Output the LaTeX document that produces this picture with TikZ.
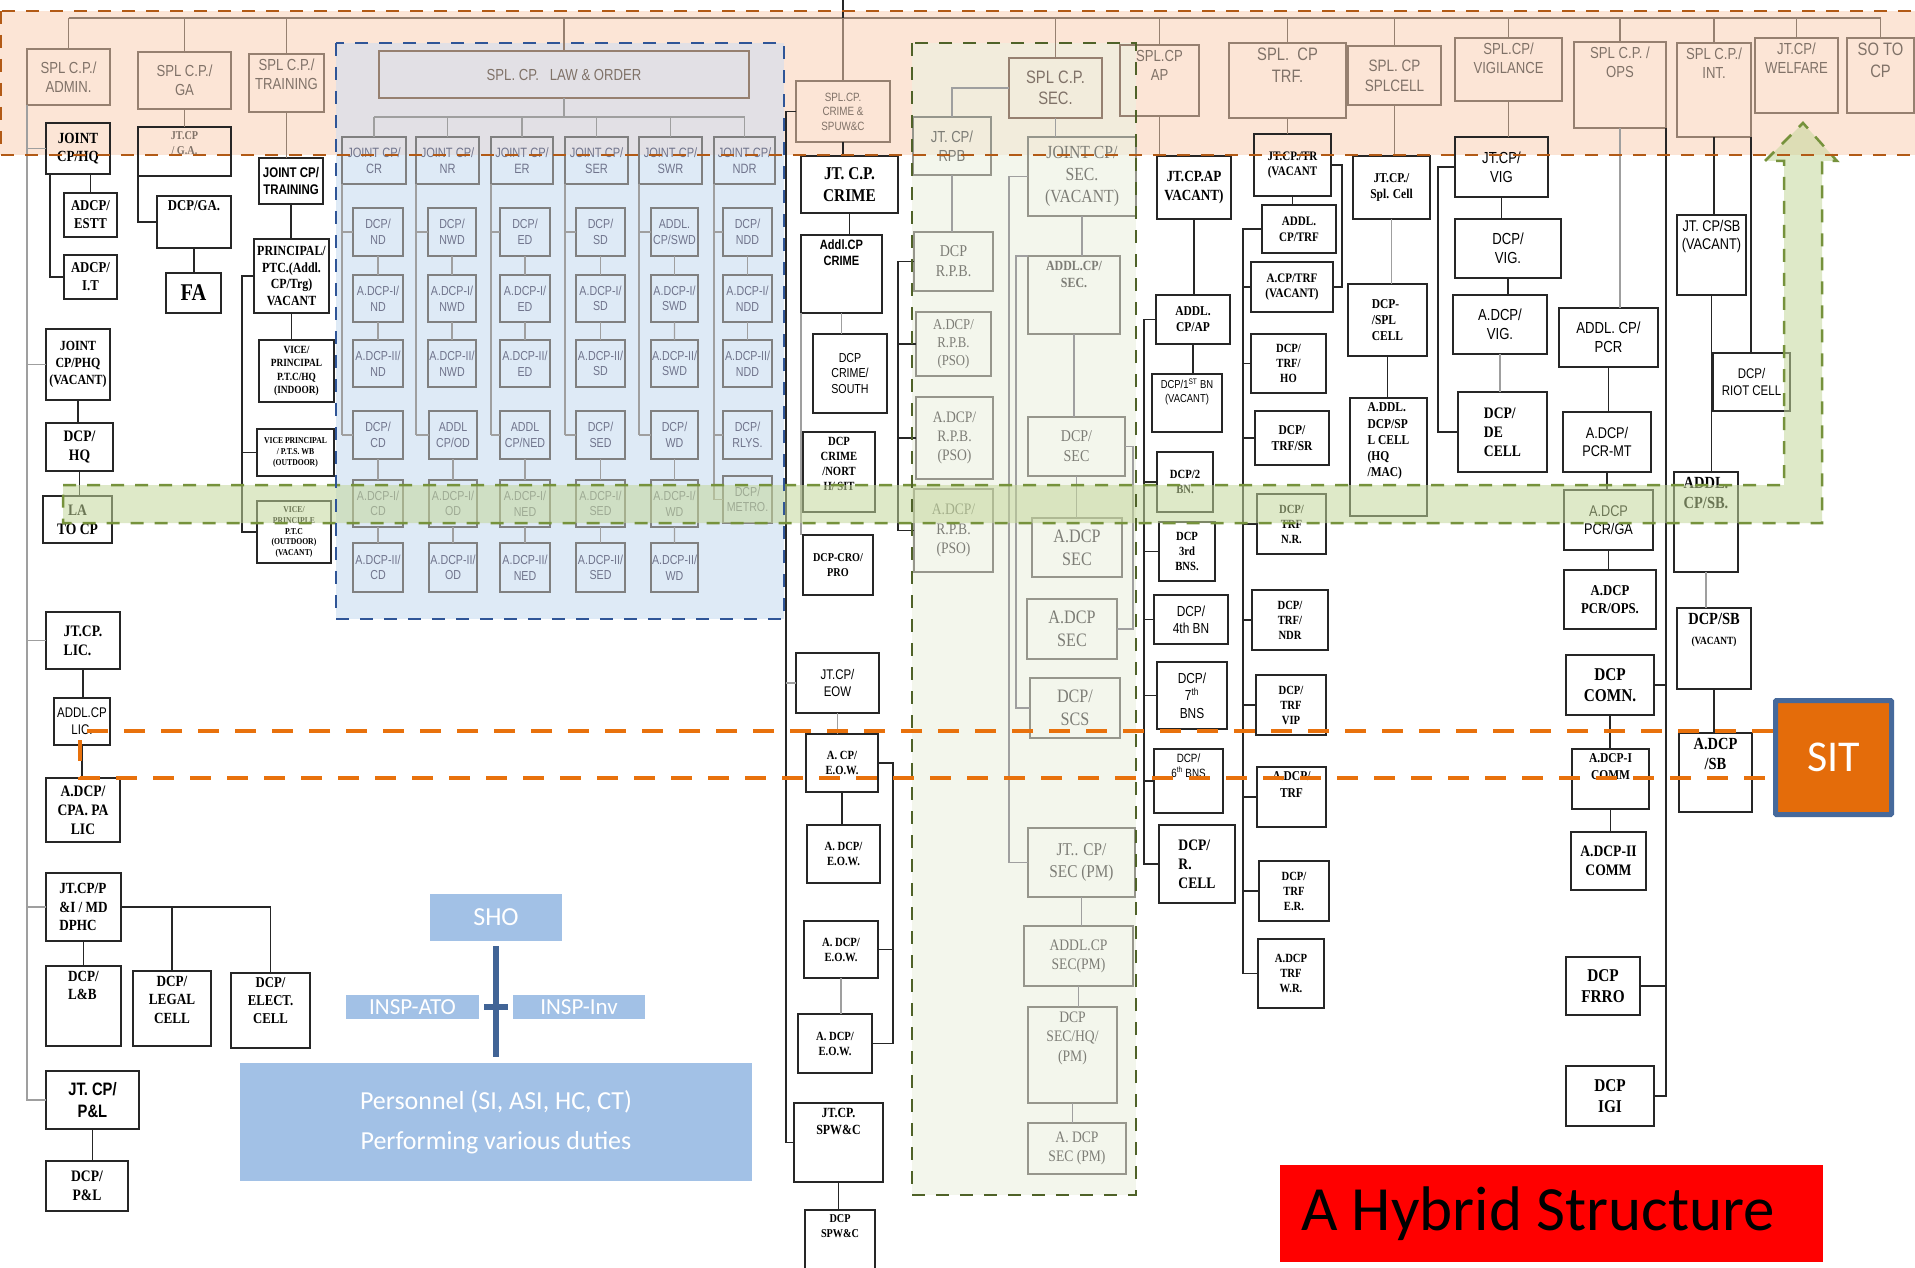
\documentclass[tikz,border=0pt]{standalone}
\usepackage{fontspec}
\setmainfont{Liberation Serif}
\newfontfamily\sern[FakeStretch=0.85]{Liberation Serif}
\newfontfamily\nar[FakeStretch=0.82]{Liberation Sans}
\newfontfamily\calf{Carlito}
\usetikzlibrary{calc}
\definecolor{obrd}{RGB}{150,128,112}
\definecolor{otxt}{RGB}{128,114,104}
\definecolor{lbrd}{RGB}{128,128,128}
\definecolor{ltxt}{RGB}{112,116,140}
\definecolor{gbrd}{RGB}{150,150,140}
\definecolor{gtxt}{RGB}{125,125,118}
\definecolor{orfill}{RGB}{252,229,214}
\definecolor{ordash}{RGB}{178,90,22}
\definecolor{blfill}{RGB}{222,234,246}
\definecolor{bltop}{RGB}{226,224,229}
\definecolor{bldash}{RGB}{47,85,151}
\definecolor{grfill}{RGB}{243,246,236}
\definecolor{grtop}{RGB}{242,236,220}
\definecolor{grdash}{RGB}{79,98,40}
\definecolor{arfill}{RGB}{196,215,155}
\definecolor{ardash}{RGB}{118,146,60}
\definecolor{sitc}{RGB}{228,108,10}
\definecolor{sitb}{RGB}{70,105,155}
\definecolor{sitl}{RGB}{232,113,12}
\definecolor{lblue}{RGB}{162,193,230}
\definecolor{shol}{RGB}{65,100,150}
\tikzset{
 ff/.store in=\curfam, ff=\nar,
 box/.style={anchor=north west, align=center, inner sep=1pt, outer sep=0pt, line width=1.2pt},
 bk/.style={box, draw=black!85, text=black, ff=\sern\bfseries},
 bs/.style={box, draw=black!85, text=black, ff=\nar},
 ob/.style={box, draw=obrd, text=otxt, ff=\nar},
 lb/.style={box, draw=lbrd, text=ltxt, ff=\nar},
 gb/.style={box, draw=gbrd, text=gtxt, ff=\sern},
 gs/.style={box, draw=gbrd, text=gtxt, ff=\nar},
 cn/.style={line width=1.2pt, draw=black!85},
 cg/.style={line width=1.2pt, draw=gray!75},
 co/.style={line width=1.2pt, draw=obrd},
 lbx/.style={anchor=north west, fill=lblue, text=white, inner sep=0pt, outer sep=0pt, align=center},
 regdash/.style={line width=2.5pt, dash pattern=on 13pt off 11pt},
 sitline/.style={line width=4.5pt, draw=sitl, dash pattern=on 21pt off 16pt},
}
\newcommand\B[8]{\node[#6,minimum width={#4pt-#2pt},minimum height={#5pt-#3pt},font={\curfam\fontsize{#7}{\fpeval{#7*1.2}}\selectfont}] (#1) at (#2,#3) {#8};}
\newcommand\Bt[8]{\node[#6,minimum width={#4pt-#2pt},minimum height={#5pt-#3pt}] (#1) at (#2,#3) {};
 \node[#6,draw=none,anchor=north,minimum width=0pt,minimum height=0pt,font={\curfam\fontsize{#7}{\fpeval{#7*1.2}}\selectfont}] at ([yshift=-4pt]#1.north) {#8};}
\newcommand\V[3][cn]{\draw[#1] (#2.south) -- (#2.south |- #3.north);}
\begin{document}
\begin{tikzpicture}[x=1pt,y=-1pt]
\useasboundingbox (0,0) rectangle (1915,1268);
\fill[white] (0,0) rectangle (1915,1268);
% regions
\fill[orfill] (0,11) rectangle (1915,155);
\fill[bltop] (336,43) rectangle (784,155);
\fill[blfill] (336,155) rectangle (784,619);
\fill[grtop] (912,43) rectangle (1136,155);
\fill[grfill] (912,155) rectangle (1136,1195);
% ---------- top row
\B{adm}{27}{49}{110}{105}{ob}{16}{SPL C.P./\\ADMIN.}
\B{ga}{138}{52}{231}{109}{ob}{16}{SPL C.P./\\GA}
\Bt{trn}{249}{54}{324}{112}{ob}{16}{SPL C.P./\\TRAINING}
\B{lo}{379}{51}{749}{98}{ob}{16}{SPL.~CP.~~~LAW \& ORDER}
\B{crm}{796}{81}{890}{142}{ob}{12}{SPL.CP.\\CRIME \&\\SPUW\&C}
\B{sec}{1009}{58}{1102}{118}{ob}{18}{SPL C.P.\\SEC.}
\Bt{ap}{1120}{45}{1199}{116}{ob}{16}{SPL.CP\\AP}
\Bt{trf}{1229}{43}{1346}{118}{ob}{18}{SPL.~~CP\\TRF.}
\B{spc}{1348}{46}{1441}{105}{ob}{16.5}{SPL.~CP\\SPLCELL}
\Bt{vig}{1455}{38}{1562}{101}{ob}{16}{SPL.CP/\\VIGILANCE}
\Bt{ops}{1574}{42}{1666}{128}{ob}{16}{SPL C.P. /\\OPS}
\Bt{int}{1677}{43}{1751}{137}{ob}{16}{SPL C.P./\\INT.}
\Bt{wel}{1755}{38}{1838}{113}{ob}{16}{JT.CP/\\WELFARE}
\Bt{so}{1847}{38}{1914}{113}{ob}{18}{SO TO\\CP}
% ---------- left column
\B{jhq}{46}{123}{110}{174}{bk}{15.5}{JOINT\\CP/HQ}
\B{estt}{64}{193}{117}{237}{bk}{15}{ADCP/\\ESTT}
\B{adit}{64}{255}{117}{299}{bk}{15}{ADCP/\\I.T}
\B{jphq}{46}{329}{110}{400}{bk}{14}{JOINT\\CP/PHQ\\(VACANT)}
\B{dhq}{46}{423}{113}{471}{bk}{16}{DCP/\\HQ}
\B{lato}{43}{496}{112}{543}{bk}{16}{LA\\TO CP}
\B{jlic}{46}{612}{120}{669}{bk,align=left}{16}{JT.CP.\\LIC.}
\B{alic}{54}{698}{110}{745}{bs}{14}{ADDL.CP\\LIC.}
\B{apa}{46}{778}{120}{842}{bk}{16}{A.DCP/\\CPA. PA\\LIC}
\B{jpi}{46}{873}{121}{941}{bk,align=left}{15.5}{JT.CP/P\\\&I / MD\\DPHC}
\Bt{dlb}{46}{966}{121}{1046}{bk,align=left}{15.5}{DCP/\\L\&B}
\Bt{dlegal}{133}{971}{211}{1046}{bk}{15.5}{DCP/\\LEGAL\\CELL}
\Bt{delect}{231}{973}{310}{1048}{bk}{15}{DCP/\\ELECT.\\CELL}
\B{jpl}{46}{1071}{139}{1129}{bs}{18}{\bfseries JT. CP/\\\bfseries P\&L}
\B{dpl}{46}{1161}{128}{1211}{bk}{16}{DCP/\\P\&L}
% GA
\Bt{jga}{138}{127}{231}{176}{bk}{12}{\color{otxt}JT.CP\\\color{otxt}/ G.A.}
\Bt{dga}{157}{196}{231}{248}{bk}{15}{DCP/GA.}
\B{fa}{166}{273}{221}{313}{bk}{24}{FA}
% Training
\B{jtrn}{259}{158}{323}{204}{bs}{14}{\bfseries JOINT CP/\\\bfseries TRAINING}
\B{ptc}{254}{239}{329}{313}{bk}{14}{PRINCIPAL/\\PTC.(Addl.\\CP/Trg)\\VACANT}
\B{vphq}{259}{340}{334}{402}{bk}{11}{VICE/\\PRINCIPAL\\P.T.C/HQ\\(INDOOR)}
\B{vpts}{257}{429}{334}{476}{bk}{9}{VICE PRINCIPAL\\/ P.T.S. WB\\(OUTDOOR)}
\B{vptc}{257}{501}{331}{563}{bk}{9}{VICE/\\PRINCIPLE\\P.T.C\\(OUTDOOR)\\(VACANT)}
% ---------- Law & Order
\B{j1}{342}{137}{406}{184}{lb}{13.5}{JOINT CP/\\CR}
\B{j2}{416}{137}{479}{184}{lb}{13.5}{JOINT CP/\\NR}
\B{j3}{491}{137}{553}{184}{lb}{13.5}{JOINT CP/\\ER}
\B{j4}{565}{137}{628}{184}{lb}{13.5}{JOINT CP/\\SER}
\B{j5}{639}{137}{702}{184}{lb}{13.5}{JOINT CP/\\SWR}
\B{j6}{714}{137}{775}{184}{lb}{13.5}{JOINT CP/\\NDR}
\B{a1}{353}{208}{403}{256}{lb}{13}{DCP/\\ND}
\B{a2}{428}{208}{476}{256}{lb}{13}{DCP/\\NWD}
\B{a3}{500}{208}{550}{256}{lb}{13}{DCP/\\ED}
\B{a4}{576}{208}{625}{256}{lb}{13}{DCP/\\SD}
\B{a5}{651}{208}{698}{256}{lb}{13}{ADDL.\\CP/SWD}
\B{a6}{723}{208}{772}{256}{lb}{13}{DCP/\\NDD}
\B{b1}{353}{275}{403}{322}{lb}{13}{A.DCP-I/\\ND}
\B{b2}{428}{275}{476}{322}{lb}{13}{A.DCP-I/\\NWD}
\B{b3}{500}{275}{550}{322}{lb}{13}{A.DCP-I/\\ED}
\B{b4}{576}{275}{625}{322}{lb}{13}{A.DCP-I/\\SD}
\B{b5}{651}{275}{698}{322}{lb}{13}{A.DCP-I/\\SWD}
\B{b6}{723}{275}{772}{322}{lb}{13}{A.DCP-I/\\NDD}
\B{c1}{353}{340}{403}{387}{lb}{13}{A.DCP-II/\\ND}
\B{c2}{428}{340}{476}{387}{lb}{13}{A.DCP-II/\\NWD}
\B{c3}{500}{340}{550}{387}{lb}{13}{A.DCP-II/\\ED}
\B{c4}{576}{340}{625}{387}{lb}{13}{A.DCP-II/\\SD}
\B{c5}{651}{340}{698}{387}{lb}{13}{A.DCP-II/\\SWD}
\B{c6}{723}{340}{772}{387}{lb}{13}{A.DCP-II/\\NDD}
\B{d1}{353}{411}{403}{459}{lb}{13}{DCP/\\CD}
\B{d2}{429}{411}{477}{459}{lb}{13}{ADDL\\CP/OD}
\B{d3}{500}{411}{550}{459}{lb}{13}{ADDL\\CP/NED}
\B{d4}{576}{411}{625}{459}{lb}{13}{DCP/\\SED}
\B{d5}{651}{411}{698}{459}{lb}{13}{DCP/\\WD}
\B{d6}{723}{411}{772}{459}{lb}{13}{DCP/\\RLYS.}
\B{e1}{353}{480}{403}{527}{lb}{13}{A.DCP-I/\\CD}
\B{e2}{429}{480}{477}{527}{lb}{13}{A.DCP-I/\\OD}
\B{e3}{500}{480}{550}{527}{lb}{13}{A.DCP-I/\\NED}
\B{e4}{576}{480}{625}{527}{lb}{13}{A.DCP-I/\\SED}
\B{e5}{651}{480}{698}{527}{lb}{13}{A.DCP-I/\\WD}
\B{e6}{723}{476}{772}{523}{lb}{13}{DCP/\\METRO.}
\B{f1}{353}{543}{403}{592}{lb}{13}{A.DCP-II/\\CD}
\B{f2}{429}{543}{477}{592}{lb}{13}{A.DCP-II/\\OD}
\B{f3}{500}{543}{550}{592}{lb}{13}{A.DCP-II/\\NED}
\B{f4}{576}{543}{625}{592}{lb}{13}{A.DCP-II/\\SED}
\B{f5}{651}{543}{698}{592}{lb}{13}{A.DCP-II/\\WD}
% ---------- Crime
\B{jcc}{801}{156}{898}{213}{bk}{18}{JT. C.P.\\CRIME}
\Bt{acc}{801}{235}{882}{313}{bs}{13.5}{\bfseries Addl.CP\\\bfseries CRIME}
\B{dcs}{813}{334}{887}{413}{bs}{13}{DCP\\CRIME/\\SOUTH}
\Bt{dcn}{803}{432}{875}{512}{bk}{12.5}{DCP\\CRIME\\/NORT\\H/ SIT}
\B{dcro}{803}{535}{873}{595}{bk}{12}{DCP-CRO/\\PRO}
\B{jeow}{796}{653}{879}{713}{bs}{14}{JT.CP/\\EOW}
\B{aceow}{806}{734}{878}{792}{bk}{12.5}{A. CP/\\E.O.W.}
\B{ad1}{807}{825}{880}{883}{bk}{12.5}{A. DCP/\\E.O.W.}
\B{ad2}{804}{921}{878}{978}{bk}{12.5}{A. DCP/\\E.O.W.}
\B{ad3}{798}{1014}{872}{1073}{bk}{12.5}{A. DCP/\\E.O.W.}
\Bt{jspw}{794}{1103}{883}{1182}{bk}{14}{JT.CP.\\SPW\&C}
\Bt{dspw}{805}{1210}{875}{1290}{bk}{12}{DCP\\SPW\&C}
% ---------- Security (green)
\B{jrpb}{913}{117}{991}{175}{gs}{16}{JT. CP/\\RPB}
\B{drpb}{914}{232}{993}{291}{gb}{16.5}{DCP\\R.P.B.}
\B{arpb1}{916}{312}{991}{376}{gb}{15}{A.DCP/\\R.P.B.\\(PSO)}
\B{arpb2}{916}{397}{993}{479}{gb}{16}{A.DCP/\\R.P.B.\\(PSO)}
\B{arpb3}{914}{489}{993}{572}{gb}{16}{A.DCP/\\R.P.B.\\(PSO)}
\B{jsec}{1028}{137}{1136}{216}{gb}{18.5}{JOINT CP/\\SEC.\\(VACANT)}
\Bt{asec}{1028}{256}{1120}{334}{gb}{14}{\bfseries ADDL.CP/\\\bfseries SEC.}
\B{dsec}{1028}{417}{1125}{476}{gb}{16.5}{DCP/\\SEC}
\B{adsec1}{1032}{518}{1122}{577}{gb}{19}{A.DCP\\SEC}
\B{adsec2}{1027}{599}{1117}{659}{gb}{19}{A.DCP\\SEC}
\B{dscs}{1030}{678}{1120}{738}{gb}{19}{DCP/\\SCS}
\B{jsecpm}{1028}{828}{1135}{897}{gb}{18}{JT.. CP/\\SEC (PM)}
\B{asecpm}{1024}{926}{1133}{986}{gb}{16}{ADDL.CP\\SEC(PM)}
\Bt{dsechq}{1028}{1007}{1117}{1103}{gb}{16}{DCP\\SEC/HQ/\\(PM)}
\B{adsecpm}{1028}{1123}{1126}{1174}{gb}{16}{A. DCP\\SEC (PM)}
% ---------- AP
\B{jap}{1157}{156}{1231}{219}{bk}{15.5}{JT.CP.AP\\VACANT)}
\B{aap}{1156}{295}{1230}{344}{bk}{13.5}{ADDL.\\CP/AP}
\Bt{d1bn}{1152}{374}{1222}{432}{bs}{11.5}{DCP/1\textsuperscript{ST} BN\\(VACANT)}
\B{d2bn}{1157}{452}{1213}{512}{bk}{12.5}{DCP/2\\BN.}
\B{d3bn}{1159}{522}{1215}{581}{bk}{12.5}{DCP\\3rd\\BNS.}
\B{d4bn}{1154}{595}{1228}{644}{bs}{14.5}{DCP/\\4th BN}
\B{d7bn}{1157}{662}{1227}{729}{bs}{14.5}{DCP/\\7\textsuperscript{th}\\BNS}
\Bt{d6bn}{1154}{749}{1223}{813}{bs}{12}{DCP/\\6\textsuperscript{th} BNS}
\B{drc}{1159}{825}{1235}{903}{bk,align=left}{16}{DCP/\\R.\\CELL}
% ---------- Traffic
\B{jtr}{1254}{134}{1331}{196}{bk}{13}{JT.CP./TR\\(VACANT}
\B{atrf}{1262}{205}{1336}{253}{bk}{13}{ADDL.\\CP/TRF}
\B{acptrf}{1251}{262}{1333}{312}{bk}{13}{A.CP/TRF\\(VACANT)}
\B{dtho}{1251}{334}{1326}{393}{bk}{12.5}{DCP/\\TRF/\\HO}
\B{dtsr}{1255}{411}{1329}{465}{bk}{13.5}{DCP/\\TRF/SR}
\B{dtnr}{1257}{494}{1326}{554}{bk}{12.5}{DCP/\\TRF\\N.R.}
\B{dtndr}{1252}{590}{1328}{650}{bk}{12.5}{DCP/\\TRF/\\NDR}
\B{dtvip}{1256}{675}{1326}{735}{bk}{12.5}{DCP/\\TRF\\VIP}
\Bt{adtrf}{1257}{767}{1326}{827}{bk}{13.5}{A.DCP/\\TRF}
\B{dter}{1259}{861}{1329}{921}{bk}{12.5}{DCP/\\TRF\\E.R.}
\B{adtwr}{1258}{939}{1324}{1008}{bk}{12.5}{A.DCP\\TRF\\W.R.}
% ---------- Spl cell
\B{jspc}{1353}{156}{1430}{219}{bk}{13.5}{JT.CP./\\Spl. Cell}
\B{dspc}{1348}{284}{1427}{356}{bk,align=left}{13.5}{DCP-\\/SPL\\CELL}
\Bt{adspc}{1350}{398}{1427}{516}{bk,align=left}{13.5}{A.DDL.\\DCP/SP\\L CELL\\(HQ\\/MAC)}
% ---------- Vigilance
\B{jvig}{1455}{137}{1548}{197}{bs}{16}{JT.CP/\\VIG}
\B{dvig}{1455}{219}{1561}{278}{bs}{16}{DCP/\\VIG.}
\B{advig}{1453}{295}{1547}{354}{bs}{16}{A.DCP/\\VIG.}
\B{dde}{1458}{392}{1547}{472}{bk,align=left}{16}{DCP/\\DE\\CELL}
% ---------- Ops
\B{apcr}{1559}{308}{1658}{367}{bs}{16}{ADDL. CP/\\PCR}
\B{apcrmt}{1563}{412}{1651}{472}{bs}{15.5}{A.DCP/\\PCR-MT}
\B{apcrga}{1564}{490}{1653}{550}{bs}{15.5}{A.DCP\\PCR/GA}
\B{apcrops}{1564}{570}{1656}{629}{bk}{15}{A.DCP\\PCR/OPS.}
\B{dcomn}{1566}{655}{1654}{715}{bk}{18}{DCP\\COMN.}
\Bt{adc1}{1572}{749}{1649}{809}{bk}{13.5}{A.DCP-I\\COMM}
\B{adc2}{1571}{832}{1646}{890}{bk}{16}{A.DCP-II\\COMM}
\B{dfrro}{1566}{957}{1640}{1015}{bk}{18}{DCP\\FRRO}
\B{digi}{1566}{1066}{1654}{1126}{bk}{18}{DCP\\IGI}
% ---------- Int
\Bt{jsb}{1677}{215}{1746}{295}{bs}{15.5}{JT. CP/SB\\(VACANT)}
\B{riot}{1713}{353}{1790}{411}{bs}{14}{DCP/\\RIOT CELL}
\Bt{asb}{1674}{472}{1738}{572}{bk}{17}{ADDL.\\CP/SB.}
\Bt{dsb}{1677}{608}{1751}{689}{bk}{17}{DCP/SB\\{\fontsize{11}{13}\selectfont(VACANT)}}
\Bt{adsb}{1679}{733}{1752}{812}{bk}{17}{A.DCP\\/SB}
% ---------- connectors: top
\coordinate (tb) at (0,18);
\coordinate (t0) at (0,0);
\draw[co] (adm.north |- tb) -- (so.north |- tb);
\foreach \nn in {adm,ga,trn,lo,crm,sec,ap,trf,spc,vig,ops,int,wel,so} \draw[co] (\nn.north) -- (\nn.north |- tb);
\draw[cn] (crm.north |- tb) -- (crm.north |- t0);
% left
\draw[cg] (adm.south west) |- (jpl.west);
\foreach \nn in {jhq,jphq,jlic,jpi} \draw[cg] (\nn.west -| adm.south west) -- (\nn.west);
\draw[cn] (jhq.south -| estt.north) -- (estt.north);
\coordinate (hqb) at (50,0);
\draw[cn] (jhq.south -| hqb) |- (adit.west);
\V{jphq}{dhq}\V{dhq}{lato}\V{jlic}{alic}\V{alic}{apa}\V{jpi}{dlb}\V{jpl}{dpl}
\draw[cn] (jpi.east) -| (delect.north);
\draw[cn] (dlegal.north) -- (dlegal.north |- jpi.east);
\V[co]{ga}{jga}
\draw[cn] (jga.south west) |- (dga.west);
\V{dga}{fa}
\V[co]{trn}{jtrn}\V{jtrn}{ptc}\V{ptc}{vphq}
\coordinate (tsp) at (242,0);
\draw[cn] (ptc.west) -- (ptc.west -| tsp) |- (vptc.west);
\draw[cn] (vpts.west -| tsp) -- (vpts.west);
% law and order
\coordinate (lobar) at (0,117);
\draw[cg] (lo.south) -- (lo.south |- lobar);
\draw[cg] (j1.north |- lobar) -- (j6.north |- lobar);
\foreach \i in {1,...,6} {
 \draw[cg] (j\i.north) -- (j\i.north |- lobar);
 \draw[cg] (a\i.south) -- (b\i.north);
 \draw[cg] (b\i.south) -- (c\i.north);
 \draw[cg] (j\i.south west |- a\i.west) -- (a\i.west);
 \draw[cg] (j\i.south west |- d\i.west) -- (d\i.west);
}
\foreach \i in {1,...,5} {
 \draw[cg] (j\i.south west) -- (j\i.south west |- d\i.west);
 \draw[cg] (d\i.south) -- (e\i.north);
 \draw[cg] (e\i.south) -- (f\i.north);
}
\draw[cg] (j6.south west) |- (e6.west);
% crime
\coordinate (csp) at (786,0);
\draw[cn] (crm.west) -- (crm.west -| csp) |- (jspw.west);
\draw[cg] (jeow.west -| csp) -- (jeow.west);
\V{crm}{jcc}\V{jcc}{acc}\V[cg]{acc}{dcs}
\draw[cg] (acc.south west) -- (acc.south west |- dcro.north);
\coordinate (rb) at (898,0);
\draw[cn] (drpb.west) -- (drpb.west -| rb) |- (arpb3.west);
\draw[cn] (arpb1.west -| rb) -- (arpb1.west);
\draw[cn] (arpb2.west -| rb) -- (arpb2.west);
\V[cg]{jeow}{aceow}\V{aceow}{ad1}\V[cg]{ad2}{ad3}
\coordinate (eb) at (893,0);
\draw[cn] (aceow.east) -- (aceow.east -| eb) |- (ad3.east);
\draw[cn] (ad2.east -| eb) -- (ad2.east);
\V{jspw}{dspw}
% security
\draw[cg] (sec.west) -| (jrpb.north);
\V[cg]{jrpb}{drpb}
\V[cg]{sec}{jsec}
\coordinate (s1) at (1009,0);
\draw[cg] (jsec.west) -- (jsec.west -| s1) |- (jsecpm.west);
\coordinate (s2) at (1016,0);
\draw[cg] (asec.north west) -- (asec.north west -| s2) |- (dscs.west);
\V[cg]{jsec}{asec}\V[cg]{asec}{dsec}\V[cg]{dsec}{adsec1}
\coordinate (s3) at (1133,0);
\draw[cg] (dsec.east) -- (dsec.east -| s3) |- (adsec2.east);
\V[cg]{jsecpm}{asecpm}\V[cg]{asecpm}{dsechq}\V[cg]{dsechq}{adsecpm}
% AP
\V[co]{ap}{jap}\V{jap}{aap}\V{aap}{d1bn}
\coordinate (asp) at (1144,0);
\draw[cn] (aap.west) -- (aap.west -| asp) |- (drc.west);
\foreach \nn in {d2bn,d3bn,d4bn,d7bn,d6bn} \draw[cn] (\nn.west -| asp) -- (\nn.west);
% traffic
\V[co]{trf}{jtr}\V{jtr}{atrf}
\coordinate (trr) at (1342,0);
\draw[cn] (jtr.east) -- (jtr.east -| trr) |- (acptrf.east);
\coordinate (trl) at (1243,0);
\draw[cn] (atrf.west) -- (atrf.west -| trl) |- (adtwr.west);
\foreach \nn in {acptrf,dtho,dtsr,dtnr,dtndr,dtvip,adtrf,dter} \draw[cn] (\nn.west -| trl) -- (\nn.west);
% spl cell
\V[co]{spc}{jspc}\V[cg]{jspc}{dspc}\V{dspc}{adspc}
% vigilance
\V[co]{vig}{jvig}\V{jvig}{dvig}\V{dvig}{advig}\V[cg]{advig}{dde}
\coordinate (vl) at (1438,0);
\draw[cn] (jvig.west) -- (jvig.west -| vl) |- (dde.west);
% ops
\V[cg]{ops}{apcr}\V{apcr}{apcrmt}\V{apcrmt}{apcrga}\V{apcrga}{apcrops}\V{dcomn}{adc1}\V{adc1}{adc2}
\draw[cn] (ops.south east) -- (ops.south east |- digi.east) -- (digi.east);
\foreach \nn in {dcomn,dfrro} \draw[cn] (\nn.east -| ops.south east) -- (\nn.east);
% int
\V{int}{jsb}
\draw[cn] (int.south east) -- (int.south east |- riot.north);
\V{jsb}{asb}\V[cg]{asb}{dsb}\V{dsb}{adsb}
% ---------- SHO block
\node[lbx, minimum width=132pt, minimum height=47pt, font=\calf\fontsize{26}{30}\selectfont] (sho) at (430,894) {SHO};
\node[lbx, minimum width=133pt, minimum height=24pt, font=\calf\fontsize{23}{26}\selectfont] (inspato) at (346,995) {INSP-ATO};
\node[lbx, minimum width=132pt, minimum height=24pt, font=\calf\fontsize{23}{26}\selectfont] (inspinv) at (513,995) {INSP-Inv};
\node[lbx, minimum width=512pt, minimum height=118pt, font=\calf\fontsize{26}{40}\selectfont] (pers) at (240,1063) {Personnel (SI, ASI, HC, CT)\\Performing various duties};
\draw[line width=6pt, shol] ([yshift=-5pt]sho.south) -- ([yshift=6pt]pers.north);
\draw[line width=6pt, shol, shorten <=5pt, shorten >=5pt] (inspato.east) -- (inspinv.west);
% ---------- green arrow band
\draw[regdash, draw=ardash, fill=arfill, fill opacity=.55] (63,485) -- (1784,485) -- (1784,161) -- (1765,161) -- (1803,123) -- (1837,161) -- (1822,161) -- (1822,523) -- (63,523) -- cycle;
% ---------- region borders
\draw[regdash, draw=bldash] (336,43) rectangle (784,619);
\draw[regdash, draw=grdash] (912,43) rectangle (1136,1195);
\draw[regdash, draw=ordash] (1,11) rectangle (1940,155);
% ---------- SIT
\node[anchor=north west, fill=sitc, draw=sitb, line width=5pt, rounded corners=1pt, minimum width=116pt, minimum height=114pt, text=white, font=\calf\fontsize{44}{50}\selectfont, inner sep=0pt] (sit) at (1773,698) {SIT};
\coordinate (sa) at (80,731);
\coordinate (sb) at (80,778);
\draw[sitline] (sit.west |- sa) -- (sa) -- (sb) -- (sit.west |- sb);
% ---------- title
\node[anchor=north west, fill=red, minimum width=543pt, minimum height=97pt, inner sep=0pt] (hyb) at (1280,1165) {};
\node[anchor=west, font=\calf\fontsize{63}{70}\selectfont, inner sep=0pt] (hybt) at ([xshift=21pt]hyb.west) {A Hybrid Structure};
\end{tikzpicture}
\end{document}
